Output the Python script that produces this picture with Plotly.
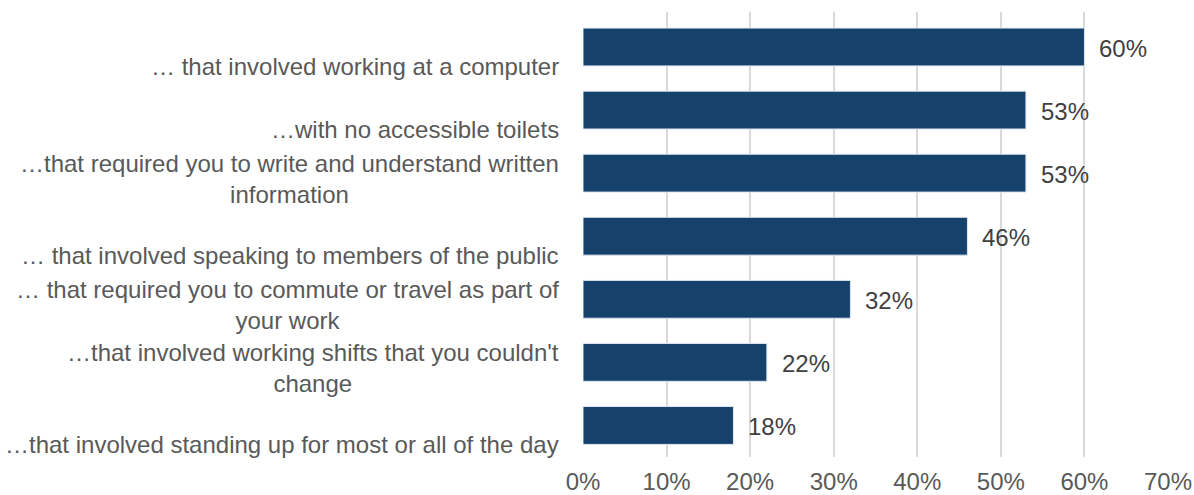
import plotly.graph_objects as go

# Survey items (top to bottom) and share of respondents
categories = [
    "… that involved working at a computer",
    "…with no accessible toilets",
    "…that required you to write and understand written<br>information",
    "… that involved speaking to members of the public",
    "… that required you to commute or travel as part of<br>your work",
    "…that involved working shifts that you couldn't<br>change",
    "…that involved standing up for most or all of the day",
]
values = [60, 53, 53, 46, 32, 22, 18]
x_ticks = [0, 10, 20, 30, 40, 50, 60, 70]
x_tick_labels = [f"{t}%" for t in x_ticks]

BAR = "#16416B"
TEXT = "#595959"
GRID = "#D9D9D9"
FONT = "Liberation Sans, Arial, sans-serif"
FS = 24

fig = go.Figure(
    go.Bar(
        x=values,
        y=categories,
        orientation="h",
        marker=dict(color=BAR, line=dict(color="#DCE6F0", width=1)),
        width=0.6,
        hoverinfo="skip",
    )
)

annotations = []
for cat, val in zip(categories, values):
    # category label on the left, right-aligned block with centred lines
    two_line = "<br>" in cat
    annotations.append(dict(
        xref="paper", yref="y", x=0, y=cat,
        text=cat, showarrow=False,
        xanchor="right", yanchor="middle", align="center",
        xshift=-22, yshift=-5.5 if two_line else -19.5,
        font=dict(family=FONT, size=FS, color=TEXT),
    ))
    # value label just past the bar end
    annotations.append(dict(
        xref="x", yref="y", x=val, y=cat,
        text=f"{val}%", showarrow=False,
        xanchor="left", yanchor="middle",
        xshift=13, yshift=-1,
        font=dict(family=FONT, size=FS, color="#404040"),
    ))

fig.update_layout(
    width=1194, height=495,
    margin=dict(l=583, r=26, t=12, b=38, pad=0),
    paper_bgcolor="white", plot_bgcolor="white",
    showlegend=False,
    bargap=0.4,
    annotations=annotations,
    font=dict(family=FONT, size=FS, color=TEXT),
    xaxis=dict(
        range=[0, 70], tickvals=x_ticks, ticktext=x_tick_labels,
        showgrid=True, gridcolor=GRID, gridwidth=2,
        zeroline=False, showline=False, ticks="",
        ticklabelstandoff=8, automargin=False,
        tickfont=dict(family=FONT, size=FS, color=TEXT),
        fixedrange=True,
    ),
    yaxis=dict(
        autorange="reversed", showticklabels=False, showgrid=False,
        zeroline=False, showline=False, ticks="", fixedrange=True,
        automargin=False,
    ),
)

fig.write_html("out.html")
